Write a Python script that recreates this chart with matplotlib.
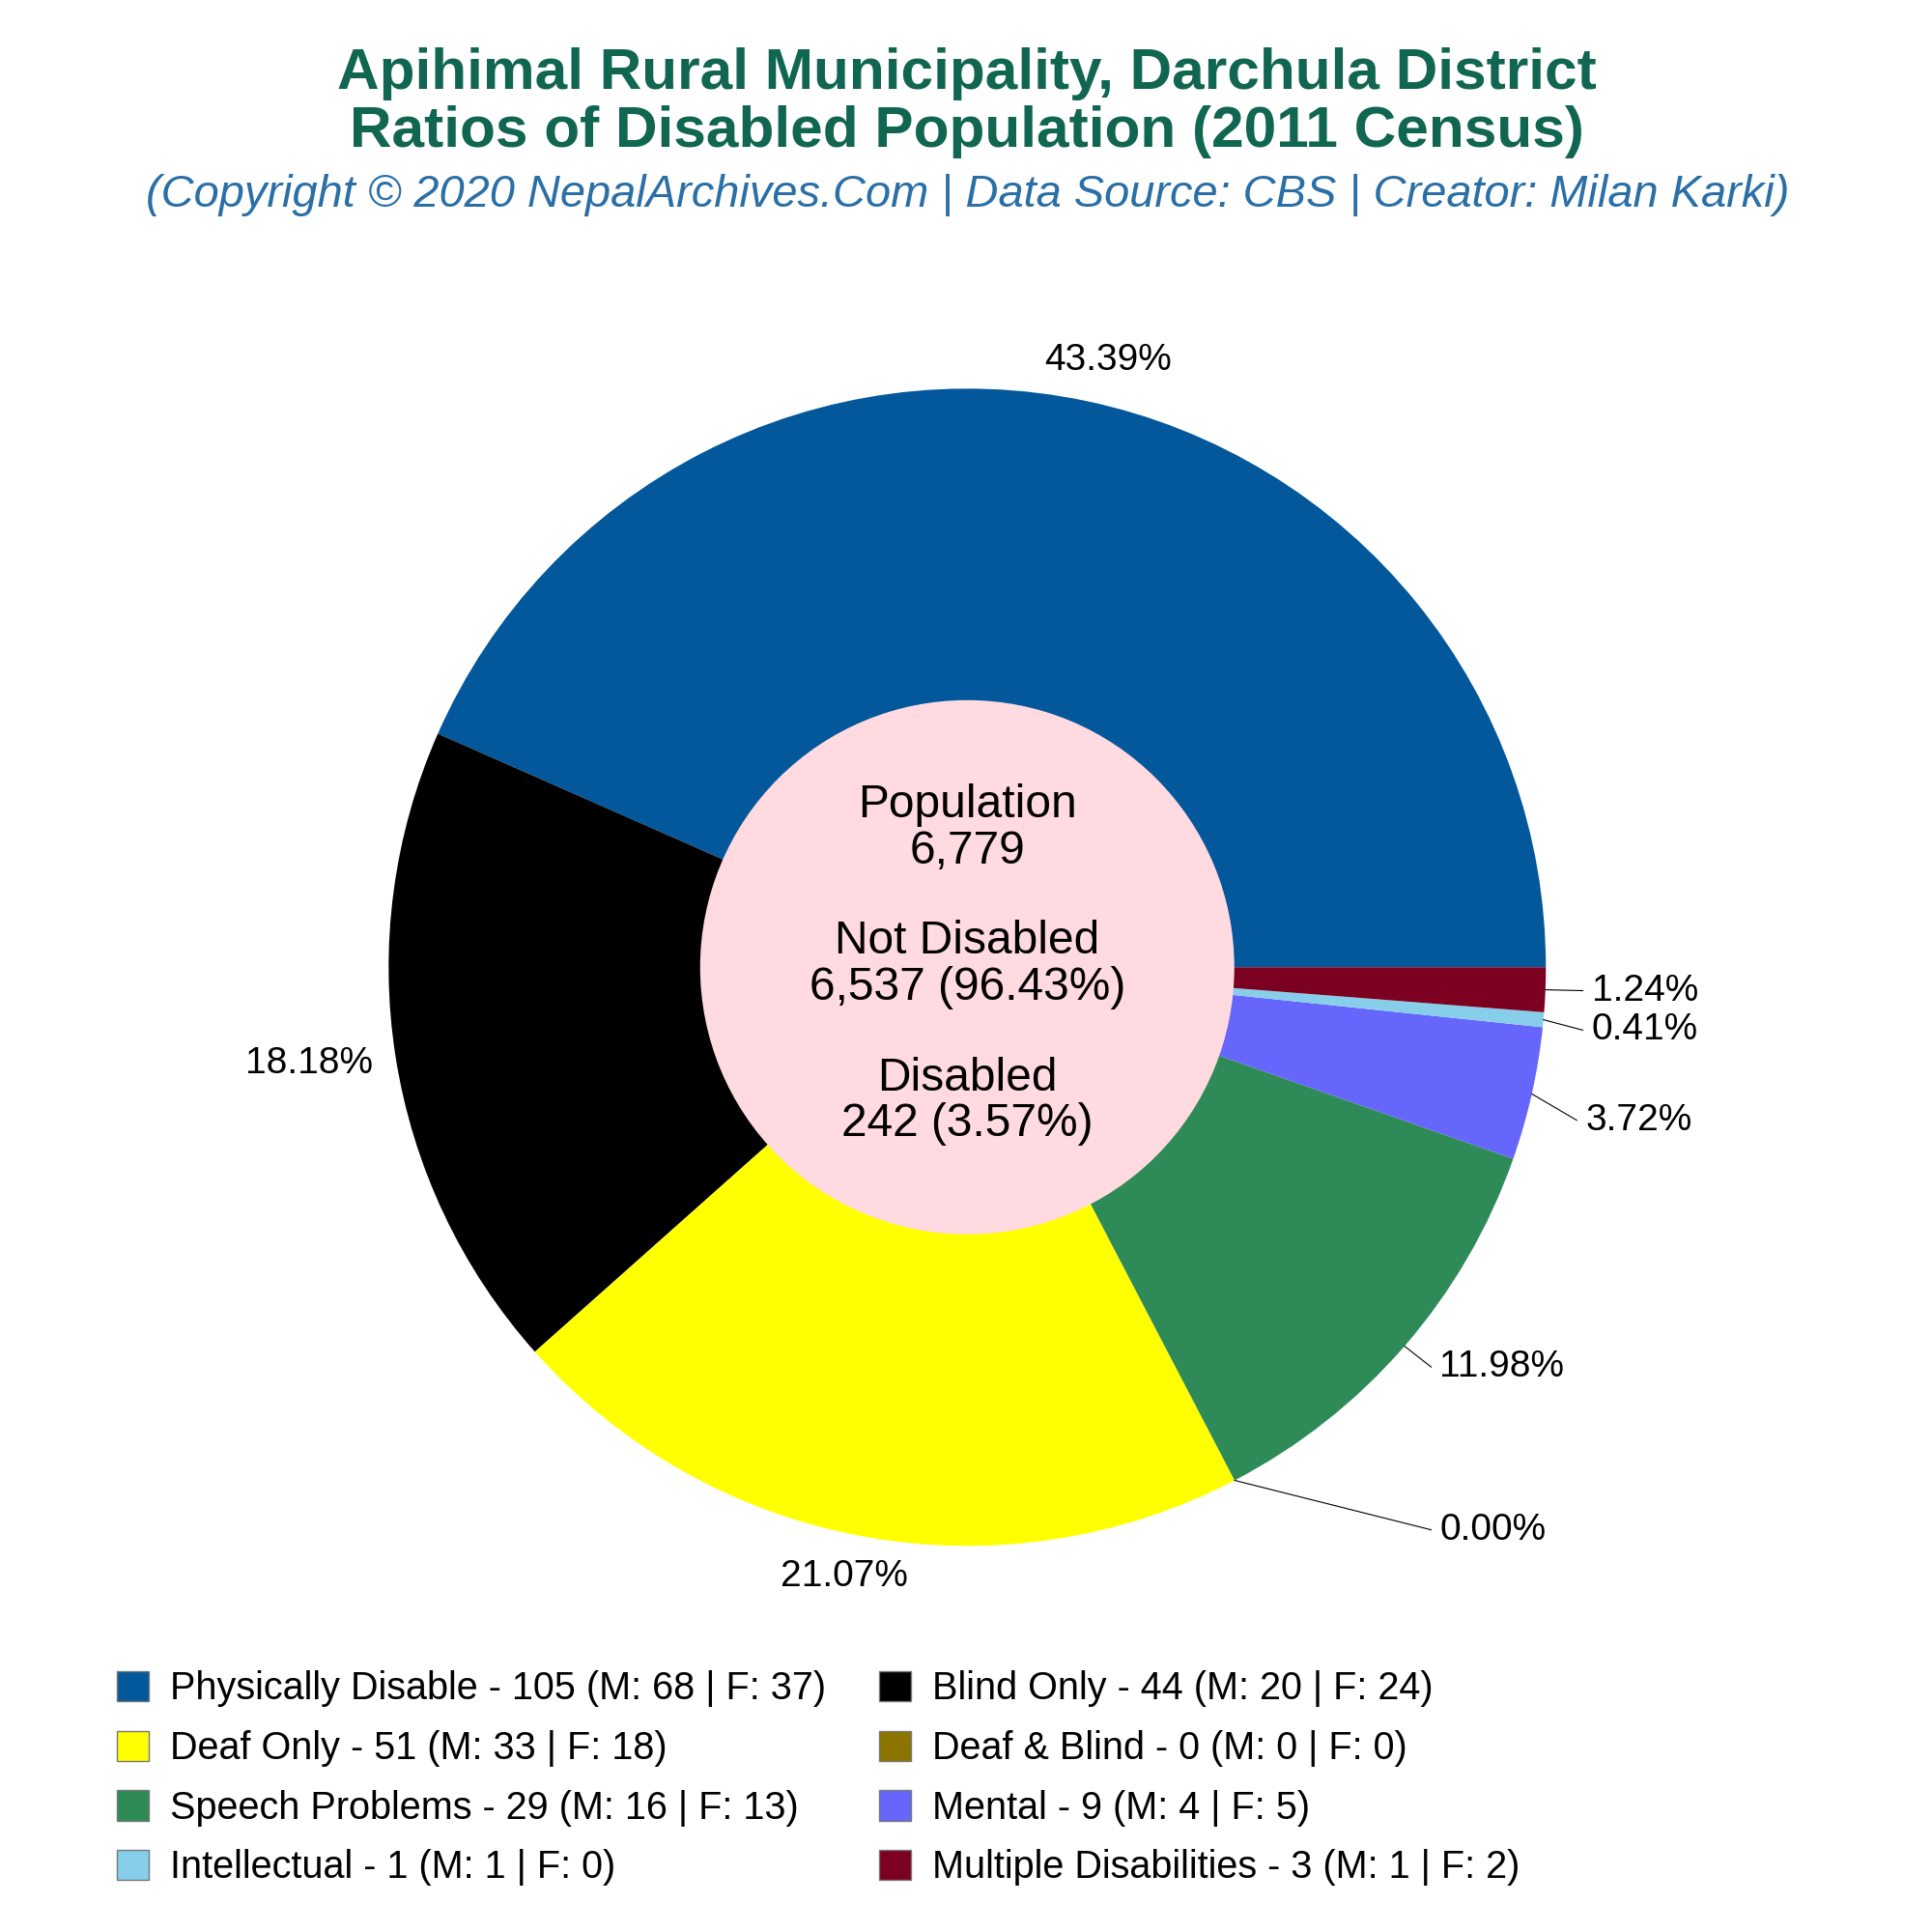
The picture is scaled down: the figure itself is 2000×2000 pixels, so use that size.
import numpy as np
import matplotlib
matplotlib.use("Agg")
import matplotlib.pyplot as plt

plt.rcParams['font.family'] = ['Liberation Sans', 'DejaVu Sans']

# data
categories = ["Physically Disable", "Blind Only", "Deaf Only", "Deaf & Blind",
              "Speech Problems", "Mental", "Intellectual", "Multiple Disabilities"]
totals = [105, 44, 51, 0, 29, 9, 1, 3]
males = [68, 20, 33, 0, 16, 4, 1, 1]
females = [37, 24, 18, 0, 13, 5, 0, 2]
colors = ["#02589b", "#000000", "#ffff00", "#8b7500",
          "#2e8b57", "#6666fc", "#87ceeb", "#7c0020"]
population = 6779
not_disabled = 6537
disabled = 242

# layout is worked out in a 1566 px square, then scaled to the 2000 px figure
S = 1566.0
def P(x, y):
    return x, S - y

fig = plt.figure(figsize=(20, 20), dpi=100)
ax = fig.add_axes([0, 0, 1, 1])

cx, cy = P(784, 784)
R = 469
wedges, _ = ax.pie(totals, colors=colors, startangle=0, counterclock=True,
                   center=(cx, cy), radius=R, frame=True,
                   wedgeprops=dict(linewidth=0))
ax.set_xlim(0, S)
ax.set_ylim(0, S)
ax.set_aspect('equal')
ax.axis('off')

ax.add_patch(plt.Circle((cx, cy), 216.5, color="#ffdae0", zorder=3, lw=0))

center_lines = [("Population", 653), ("{:,}".format(population), 690),
                ("Not Disabled", 763),
                ("{:,} ({:.2f}%)".format(not_disabled, 100.0*not_disabled/population), 801),
                ("Disabled", 874),
                ("{:,} ({:.2f}%)".format(disabled, 100.0*disabled/population), 911)]
for txt, yy in center_lines:
    ax.text(*P(784, yy), txt, ha='center', va='center', fontsize=34.5, zorder=4)

# percent labels
pct = [100.0*t/sum(totals) for t in totals]
ang = np.cumsum([0] + pct)*3.6
mids = (ang[:-1] + ang[1:])/2.0

big = {0: (898, 292, 'center'), 1: (302, 862, 'right'), 2: (684, 1278, 'center')}
for i, (x, y, ha) in big.items():
    ax.text(*P(x, y), "{:.2f}%".format(pct[i]), ha=ha, va='center', fontsize=28)

small = {3: (1160, 1240), 4: (1160, 1108), 5: (1278, 908), 6: (1283, 835), 7: (1283, 803)}
for i, (x, y) in small.items():
    a = np.radians(mids[i])
    ex, ey = cx + R*np.cos(a), cy + R*np.sin(a)
    tx, ty = P(x, y)
    ax.plot([ex, tx], [ey, ty], color='black', lw=0.8, zorder=5)
    ax.text(tx + 7, ty, "{:.2f}%".format(pct[i]), ha='left', va='center', fontsize=28)

# titles
ax.text(*P(784, 60), "Apihimal Rural Municipality, Darchula District", ha='center', va='center',
        fontsize=43.5, fontweight='bold', color="#106650")
ax.text(*P(784, 107), "Ratios of Disabled Population (2011 Census)", ha='center', va='center',
        fontsize=43.5, fontweight='bold', color="#106650")
ax.text(*P(784, 158), "(Copyright \u00a9 2020 NepalArchives.Com | Data Source: CBS | Creator: Milan Karki)",
        ha='center', va='center', fontsize=33.8, fontstyle='italic', color="#2a6fa6")

# legend, row-major order like the original
labels = ["{} - {} (M: {} | F: {})".format(c, t, m, f)
          for c, t, m, f in zip(categories, totals, males, females)]
order = list(range(0, 8, 2)) + list(range(1, 8, 2))
leg = ax.legend([wedges[i] for i in order], [labels[i] for i in order], ncol=2,
                loc='upper left', bbox_to_anchor=(95/S, 1 - 1354/S), frameon=False,
                fontsize=28.5, handlelength=0.83, handleheight=0.83, handletextpad=0.55,
                columnspacing=1.4, labelspacing=0.6, borderpad=0, borderaxespad=0)
for h in leg.legend_handles:
    h.set_edgecolor('#777777')
    h.set_linewidth(1.0)

fig.savefig("out.png", dpi=100)
